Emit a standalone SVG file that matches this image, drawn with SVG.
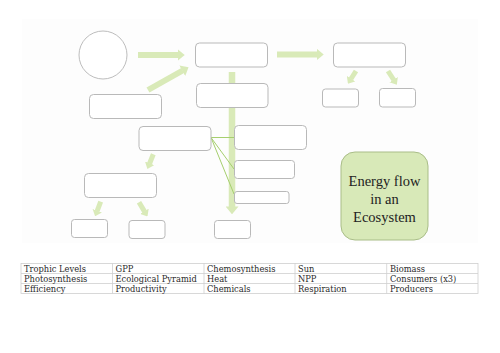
<svg xmlns="http://www.w3.org/2000/svg" width="500" height="353" viewBox="0 0 500 353">
<defs>
<style>
.box{fill:#fff;stroke:#b9b9b9;stroke-width:1}
.arr{stroke:#d9eab8;fill:none;stroke-linecap:butt}
.thin{stroke:#a6cf6e;stroke-width:1;fill:none}
.cell{fill:#fff;stroke:#cfcfcf;stroke-width:0.8}
.tt{font-family:"DejaVu Serif",serif;font-size:8.3px;fill:#2a2a2a}
.title{font-family:"Liberation Serif",serif;font-size:14.5px;fill:#222;text-anchor:middle}
</style>
<marker id="ah" viewBox="0 0 6 10" markerUnits="strokeWidth" markerWidth="1.2" markerHeight="2" refX="0.4" refY="5" orient="auto">
<path d="M0,0 L6,5 L0,10 z" fill="#d9eab8"/>
</marker>
</defs>
<rect x="0" y="0" width="500" height="353" fill="#fff"/>
<rect x="22" y="19" width="456" height="224" fill="#fdfdfd"/>
<g id="connectors">
<line class="arr" x1="138" y1="55" x2="178" y2="55" stroke-width="6" marker-end="url(#ah)"/>
<line class="arr" x1="148" y1="90" x2="182.7" y2="70.5" stroke-width="6" marker-end="url(#ah)"/>
<line class="arr" x1="277" y1="54.5" x2="317" y2="54.5" stroke-width="6" marker-end="url(#ah)"/>
<line class="arr" x1="232" y1="72" x2="232" y2="207" stroke-width="6.5" marker-end="url(#ah)"/>
<line class="arr" x1="356" y1="71" x2="350.9" y2="79" stroke-width="5" marker-end="url(#ah)"/>
<line class="arr" x1="388" y1="71" x2="393.8" y2="80" stroke-width="5" marker-end="url(#ah)"/>
<line class="arr" x1="153.3" y1="154.3" x2="149.5" y2="163.7" stroke-width="5" marker-end="url(#ah)"/>
<line class="arr" x1="100.7" y1="201.7" x2="97.1" y2="211.1" stroke-width="5" marker-end="url(#ah)"/>
<line class="arr" x1="139" y1="202.3" x2="144.6" y2="211.6" stroke-width="5" marker-end="url(#ah)"/>
<path class="thin" d="M211,137.5 L234,137.5 M211,137.5 L234,169 M211,137.5 L234,194"/>
</g>
<g id="sun"><circle cx="103" cy="55" r="24" fill="#fff" stroke="#bdbdbd" stroke-width="1"/></g>
<g id="boxA"><rect class="box" x="195.5" y="43" width="72" height="24" rx="4"/></g>
<g id="boxB"><rect class="box" x="196.5" y="83.5" width="71.5" height="24" rx="4"/></g>
<g id="boxC"><rect class="box" x="89.5" y="94.5" width="72" height="24" rx="4"/></g>
<g id="boxD"><rect class="box" x="333.5" y="43" width="72" height="24" rx="4"/></g>
<g id="boxD1"><rect class="box" x="322.5" y="89" width="36" height="18" rx="3"/></g>
<g id="boxD2"><rect class="box" x="379.5" y="88.5" width="36" height="18.5" rx="3"/></g>
<g id="boxE"><rect class="box" x="139" y="126.5" width="72" height="24" rx="4"/></g>
<g id="boxF"><rect class="box" x="234.5" y="125.5" width="72" height="24" rx="4"/></g>
<g id="boxG"><rect class="box" x="234.5" y="160.5" width="60" height="18" rx="3"/></g>
<g id="boxH"><rect class="box" x="234.5" y="191.5" width="54.5" height="12" rx="2.5"/></g>
<g id="boxI"><rect class="box" x="214.5" y="220.5" width="36" height="18" rx="3"/></g>
<g id="boxJ"><rect class="box" x="84.5" y="173.5" width="72" height="24" rx="4"/></g>
<g id="boxK"><rect class="box" x="71.5" y="219.5" width="36" height="18" rx="3"/></g>
<g id="boxL"><rect class="box" x="129" y="220.5" width="36" height="18" rx="3"/></g>
<g id="title">
<rect x="341" y="152" width="87" height="88" rx="14" fill="#d8e9b8" stroke="#a9bd88" stroke-width="1"/>
<text class="title" x="384.5" y="186">Energy flow</text>
<text class="title" x="384.5" y="204">in an</text>
<text class="title" x="384.5" y="222">Ecosystem</text>
</g>
<g id="table">
<rect class="cell" x="21" y="263.5" width="457" height="30"/>
<path d="M21,273.5 H478 M21,283.5 H478 M112.5,263.5 V293.5 M204,263.5 V293.5 M295,263.5 V293.5 M386.7,263.5 V293.5" stroke="#cfcfcf" stroke-width="0.8" fill="none"/>
<text class="tt" x="24" y="271.5">Trophic Levels</text>
<text class="tt" x="115.5" y="271.5">GPP</text>
<text class="tt" x="207" y="271.5">Chemosynthesis</text>
<text class="tt" x="298" y="271.5">Sun</text>
<text class="tt" x="390" y="271.5">Biomass</text>
<text class="tt" x="24" y="281.5">Photosynthesis</text>
<text class="tt" x="115.5" y="281.5">Ecological Pyramid</text>
<text class="tt" x="207" y="281.5">Heat</text>
<text class="tt" x="298" y="281.5">NPP</text>
<text class="tt" x="390" y="281.5">Consumers (x3)</text>
<text class="tt" x="24" y="291.5">Efficiency</text>
<text class="tt" x="115.5" y="291.5">Productivity</text>
<text class="tt" x="207" y="291.5">Chemicals</text>
<text class="tt" x="298" y="291.5">Respiration</text>
<text class="tt" x="390" y="291.5">Producers</text>
</g>
</svg>
